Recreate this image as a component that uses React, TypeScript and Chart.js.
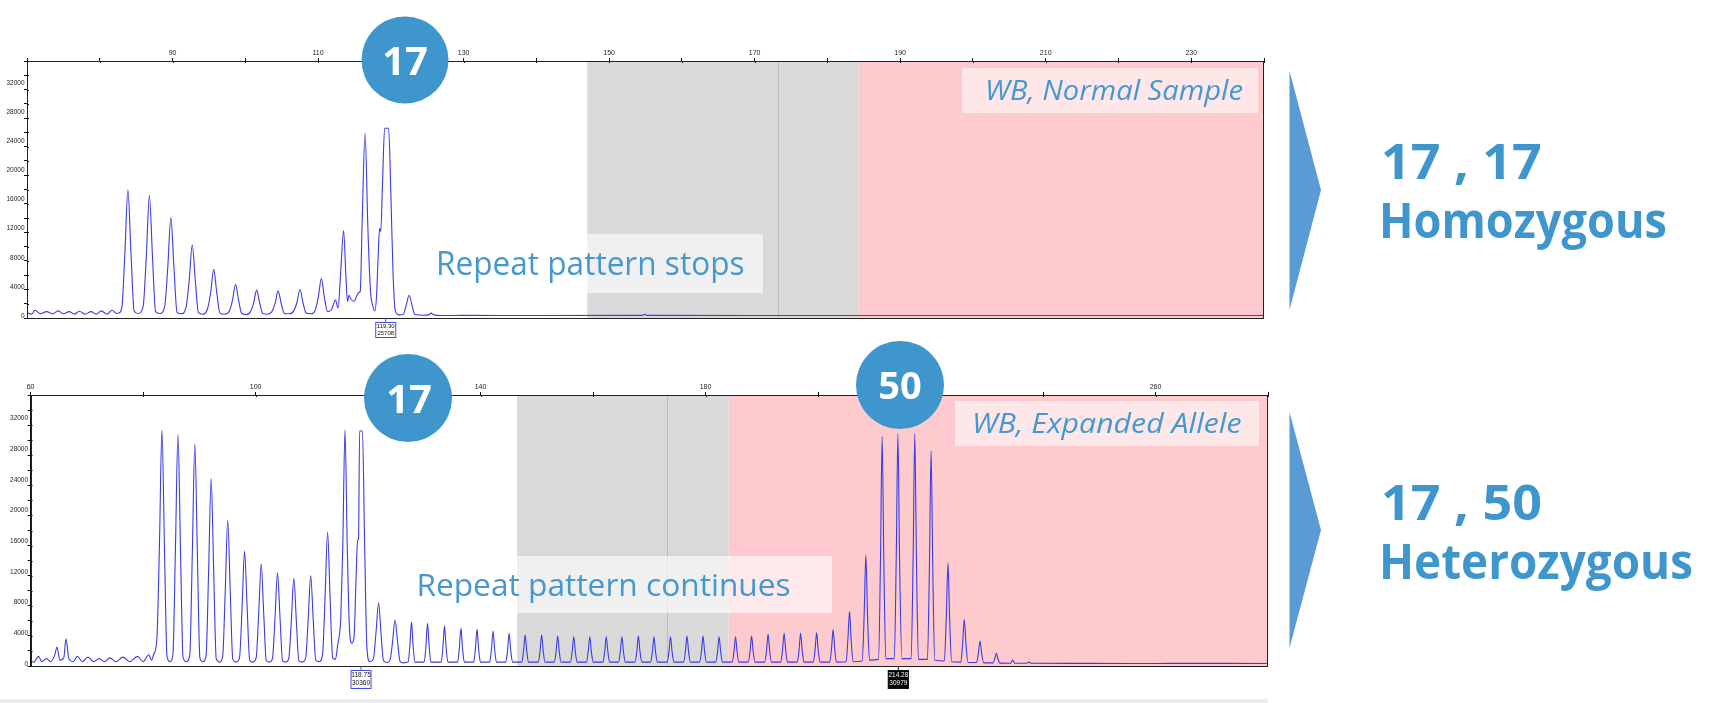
import React, { useEffect, useRef } from "react";
import { Chart, registerables } from "chart.js";

Chart.register(...registerables);

// ---------- data (size in bp on x, RFU on y) ----------
const normalTrace: [number, number][] = [
  [70.0, 450], [70.6, 250], [71.1, 800], [71.8, 300], [72.7, 600], [73.5, 300], [74.3, 700], [75.0, 300],
  [75.8, 600], [76.5, 250], [77.2, 650], [78.0, 250], [78.8, 600], [79.5, 250], [80.2, 700], [81.0, 250],
  [81.7, 800], [82.3, 350], [82.6, 400], [83.05, 1300], [83.45, 8650], [83.87, 17300], [84.29, 8650], [84.72, 700], [85.3, 350],
  [85.97, 1400], [86.4, 8270], [86.82, 16540], [87.24, 8270], [87.67, 600], [88.25, 350],
  [88.92, 1300], [89.35, 6760], [89.77, 13520], [90.19, 6760], [90.62, 500], [91.2, 300],
  [91.86, 1200], [92.29, 4880], [92.71, 9760], [93.13, 4880], [93.56, 450], [94.15, 250],
  [94.81, 1000], [95.24, 3200], [95.66, 6410], [96.08, 3200], [96.51, 400], [97.15, 250],
  [97.81, 700], [98.24, 2160], [98.66, 4320], [99.08, 2160], [99.51, 350], [100.1, 200],
  [100.71, 600], [101.14, 1780], [101.56, 3550], [101.98, 1780], [102.41, 350], [103.0, 250],
  [103.66, 600], [104.09, 1730], [104.51, 3450], [104.93, 1730], [105.36, 350], [106.0, 300],
  [106.66, 700], [107.09, 1820], [107.51, 3640], [107.93, 1820], [108.36, 400], [109.0, 300],
  [109.6, 800], [110.03, 2570], [110.45, 5140], [110.87, 2570], [111.3, 600],
  [111.85, 900], [112.4, 2180], [112.75, 1100],
  [113.1, 5865], [113.51, 11730], [113.85, 5000], [114.05, 2000], [114.24, 2860], [114.55, 2300],
  [114.95, 2000], [115.3, 2700], [115.56, 3180], [115.8, 3400],
  [116.05, 12555], [116.46, 25110], [116.85, 12000], [117.2, 3500], [117.5, 1500], [117.8, 700],
  [118.05, 3000], [118.25, 8000], [118.46, 12050], [118.62, 11600], [118.85, 18000], [119.15, 25800],
  [119.7, 25800], [120.0, 17000], [120.3, 6000], [120.6, 800], [121.1, 150],
  [121.7, 200], [122.1, 1430], [122.51, 2860], [122.92, 1430], [123.3, 200], [124.5, 100],
  [125.2, 150], [125.56, 400], [125.9, 150], [127.0, 60], [130.0, 80], [140.0, 60],
  [154.5, 80], [154.9, 220], [155.3, 80], [170.0, 60], [190.0, 70], [210.0, 60], [240.0, 60],
];

const expandedTrace: [number, number][] = [
  [60.0, 400], [60.6, 250], [61.4, 1000], [62.0, 300], [62.8, 700], [63.6, 300], [64.3, 1200], [64.7, 2200],
  [65.2, 500], [65.9, 800], [66.3, 3300], [66.8, 700], [67.6, 300], [68.3, 1000], [69.2, 300], [70.2, 900],
  [71.2, 300], [72.2, 700], [73.1, 300], [74.1, 800], [75.2, 300], [76.4, 900], [77.6, 300], [79.0, 1000],
  [80.0, 300], [81.0, 1200], [81.5, 500],
  [81.9, 1300], [82.45, 3300], [82.9, 15240], [83.35, 30480], [83.8, 15240], [84.25, 1000], [84.8, 300],
  [85.3, 1200], [85.75, 14960], [86.2, 29930], [86.65, 14960], [87.1, 900], [87.7, 300],
  [88.3, 1200], [88.75, 14330], [89.2, 28660], [89.65, 14330], [90.1, 800], [90.65, 300],
  [91.2, 1100], [91.65, 12100], [92.1, 24190], [92.55, 12100], [93.0, 700], [93.6, 250],
  [94.15, 1000], [94.6, 9380], [95.05, 18760], [95.5, 9380], [95.95, 600], [96.55, 250],
  [97.15, 900], [97.6, 7360], [98.04, 14720], [98.5, 7360], [98.95, 500], [99.5, 250],
  [100.1, 800], [100.55, 6500], [101.0, 13030], [101.45, 6500], [101.9, 450], [102.45, 250],
  [103.0, 700], [103.45, 5950], [103.9, 11900], [104.35, 5950], [104.8, 400], [105.35, 250],
  [105.9, 700], [106.35, 5580], [106.8, 11160], [107.25, 5580], [107.7, 400], [108.3, 250],
  [108.9, 800], [109.35, 5750], [109.8, 11510], [110.25, 5750], [110.7, 500], [111.3, 300],
  [111.9, 1200], [112.35, 8600], [112.8, 17200], [113.25, 8600], [113.7, 800], [114.2, 600],
  [114.6, 2500], [114.9, 3780],
  [115.15, 6000], [115.5, 15240], [115.9, 30480], [116.3, 15240], [116.7, 4500], [117.1, 2700],
  [117.5, 3500], [117.9, 12000], [118.15, 16160], [118.3, 16300], [118.5, 30360], [119.0, 30360],
  [119.4, 15000], [119.8, 2000], [120.3, 300],
  [120.95, 700], [121.4, 4000], [121.87, 7990], [122.3, 4000], [122.75, 400], [123.4, 200],
  [123.9, 500], [124.35, 2860], [124.8, 5730], [125.25, 2860], [125.7, 300], [126.3, 150],
  [127.12, 250], [127.44, 2480], [127.72, 5510], [128.0, 2480], [128.32, 250],
  [129.97, 250], [130.29, 2390], [130.57, 5300], [130.85, 2390], [131.17, 250],
  [132.99, 250], [133.31, 2230], [133.59, 4950], [133.87, 2230], [134.19, 250],
  [135.91, 250], [136.23, 2090], [136.51, 4650], [136.79, 2090], [137.11, 250],
  [138.77, 250], [139.09, 2030], [139.37, 4520], [139.65, 2030], [139.97, 250],
  [141.62, 250], [141.94, 1940], [142.22, 4300], [142.5, 1940], [142.82, 250],
  [144.48, 250], [144.8, 1800], [145.08, 4000], [145.36, 1800], [145.68, 250],
  [147.33, 250], [147.65, 1700], [147.93, 3780], [148.21, 1700], [148.53, 250],
  [150.26, 250], [150.58, 1700], [150.86, 3780], [151.14, 1700], [151.46, 250],
  [153.11, 250], [153.43, 1640], [153.71, 3650], [153.99, 1640], [154.31, 250],
  [155.97, 250], [156.29, 1600], [156.57, 3560], [156.85, 1600], [157.17, 250],
  [158.82, 250], [159.14, 1600], [159.42, 3560], [159.7, 1600], [160.02, 250],
  [161.75, 250], [162.07, 1600], [162.35, 3560], [162.63, 1600], [162.95, 250],
  [164.53, 250], [164.85, 1600], [165.13, 3560], [165.41, 1600], [165.73, 250],
  [167.46, 250], [167.78, 1640], [168.06, 3650], [168.34, 1640], [168.66, 250],
  [170.23, 250], [170.55, 1600], [170.83, 3560], [171.11, 1600], [171.43, 250],
  [173.17, 250], [173.49, 1600], [173.77, 3560], [174.05, 1600], [174.37, 250],
  [176.1, 250], [176.42, 1640], [176.7, 3650], [176.98, 1640], [177.3, 250],
  [178.95, 250], [179.27, 1640], [179.55, 3650], [179.83, 1640], [180.15, 250],
  [181.81, 250], [182.13, 1600], [182.41, 3560], [182.69, 1600], [183.01, 250],
  [184.73, 250], [185.05, 1600], [185.33, 3560], [185.61, 1600], [185.93, 250],
  [187.59, 250], [187.91, 1640], [188.19, 3650], [188.47, 1640], [188.79, 250],
  [190.52, 250], [190.84, 1740], [191.12, 3860], [191.4, 1740], [191.72, 250],
  [193.37, 250], [193.69, 1800], [193.97, 4000], [194.25, 1800], [194.57, 250],
  [196.3, 250], [196.62, 1800], [196.9, 4000], [197.18, 1800], [197.5, 250],
  [199.15, 250], [199.47, 1840], [199.75, 4080], [200.03, 1840], [200.35, 250],
  [202.08, 250], [202.4, 2030], [202.68, 4500], [202.96, 2030], [203.28, 250],
  [205.0, 300], [205.3, 3100], [205.6, 6820], [205.9, 3000], [206.25, 300],
  [207.85, 400], [208.2, 6400], [208.5, 14200], [208.8, 6300], [209.15, 500],
  [210.75, 600], [211.1, 13500], [211.4, 29620], [211.7, 13300], [212.05, 700],
  [213.55, 700], [213.9, 13600], [214.2, 29970], [214.5, 13500], [214.9, 700],
  [216.55, 700], [216.9, 13600], [217.2, 29970], [217.5, 13500], [217.85, 600],
  [219.45, 600], [219.8, 12600], [220.1, 27750], [220.4, 12500], [220.75, 500],
  [222.45, 400], [222.8, 6000], [223.1, 13200], [223.4, 5900], [223.75, 300],
  [225.4, 250], [225.7, 2600], [226.0, 5820], [226.3, 2600], [226.65, 200],
  [228.2, 200], [228.5, 1350], [228.8, 3000], [229.1, 1350], [229.45, 150],
  [231.1, 150], [231.4, 650], [231.7, 1380], [232.0, 650], [232.35, 120],
  [234.2, 100], [234.6, 500], [235.0, 100], [237.1, 100], [237.5, 250], [237.9, 90],
  [245.0, 80], [255.0, 70], [265.0, 80], [280.0, 70],
];

const normalXLabels = [90, 110, 130, 150, 170, 190, 210, 230];
const expandedXLabels = [60, 100, 140, 180, 220, 260];
const yLabels = [0, 4000, 8000, 12000, 16000, 20000, 24000, 28000, 32000];

const normalGrey = [147, 184.3];
const normalDivider = 173.2;
const normalPink = [184.3, 240];
const expandedGrey = [146.5, 184.1];
const expandedDivider = 173.1;
const expandedPink = [184.1, 280];

const normalCalls = [{ at: 119.3, size: "119.30", height: "25708", dark: false }];
const expandedCalls = [
  { at: 118.75, size: "118.75", height: "30360", dark: false },
  { at: 214.28, size: "214.28", height: "30979", dark: true },
];

// ---------- chart plumbing ----------
const panelPlugin = {
  id: "panel",
  beforeDatasetsDraw(chart: any, _a: any, o: any) {
    const { ctx, chartArea: a, scales } = chart;
    const x = scales.x;
    const h = a.bottom - a.top;
    ctx.save();
    const g0 = x.getPixelForValue(o.grey[0]);
    const g1 = x.getPixelForValue(o.grey[1]);
    ctx.fillStyle = "#d9d9d9";
    ctx.fillRect(g0, a.top, g1 - g0, h);
    const p0 = x.getPixelForValue(o.pink[0]);
    const p1 = x.getPixelForValue(o.pink[1]);
    ctx.fillStyle = "#fdcbce";
    ctx.fillRect(p0, a.top, p1 - p0, h);
    const d = Math.round(x.getPixelForValue(o.divider)) + 0.5;
    ctx.strokeStyle = "#bcbcbc";
    ctx.lineWidth = 1;
    ctx.beginPath();
    ctx.moveTo(d, a.top);
    ctx.lineTo(d, a.bottom);
    ctx.stroke();
    ctx.restore();
  },
  afterDraw(chart: any, _a: any, o: any) {
    const { ctx, chartArea: a, scales } = chart;
    const x = scales.x;
    const y = scales.y;
    ctx.save();
    ctx.strokeStyle = "#222";
    ctx.lineWidth = 1;
    ctx.strokeRect(Math.round(a.left) + 0.5, Math.round(a.top) + 0.5, Math.round(a.right - a.left) - 1, Math.round(a.bottom - a.top));
    // inner halves of the tick marks (they cross the axis lines)
    ctx.strokeStyle = "#111";
    ctx.beginPath();
    for (const t of y.ticks) {
      const py = Math.round(y.getPixelForValue(t.value)) + 0.5;
      ctx.moveTo(a.left, py);
      ctx.lineTo(a.left + 2, py);
    }
    for (const t of x.ticks) {
      const px = Math.round(x.getPixelForValue(t.value)) + 0.5;
      ctx.moveTo(px, a.top);
      ctx.lineTo(px, a.top + 2);
    }
    ctx.stroke();
    // y tick labels
    ctx.fillStyle = "#222";
    ctx.font = '6.5px "Liberation Sans", Arial, sans-serif';
    ctx.textAlign = "right";
    ctx.textBaseline = "middle";
    for (const v of o.yLabels) {
      ctx.fillText(String(v), a.left - 2.5, y.getPixelForValue(v));
    }
    // peak call boxes
    for (const c of o.calls) {
      const cx = x.getPixelForValue(c.at);
      const top = a.bottom + 4;
      const w = o.boxW;
      const bh = o.boxH;
      ctx.strokeStyle = c.dark ? "#111" : "#4b4be0";
      ctx.beginPath();
      ctx.moveTo(cx, a.bottom);
      ctx.lineTo(cx, top);
      ctx.stroke();
      ctx.fillStyle = c.dark ? "#000" : "#fff";
      ctx.fillRect(cx - w / 2, top, w, bh);
      ctx.strokeRect(cx - w / 2 + 0.5, top + 0.5, w - 1, bh - 1);
      ctx.fillStyle = c.dark ? "#fff" : "#111";
      ctx.font = `${o.boxFont}px "Liberation Sans", Arial, sans-serif`;
      ctx.textAlign = "center";
      ctx.textBaseline = "middle";
      ctx.fillText(c.size, cx, top + bh * 0.3);
      ctx.fillText(c.height, cx, top + bh * 0.72);
    }
    ctx.restore();
  },
};

function buildChart(canvas: HTMLCanvasElement, cfg: any) {
  return new Chart(canvas, {
    type: "line",
    data: {
      datasets: [
        {
          data: cfg.trace.map(([x, y]: [number, number]) => ({ x, y })),
          borderColor: "#3b3be6",
          borderWidth: 1.1,
          pointRadius: 0,
          cubicInterpolationMode: "monotone",
          fill: false,
        },
      ],
    },
    options: {
      responsive: false,
      animation: false,
      events: [],
      layout: { padding: cfg.padding },
      plugins: {
        legend: { display: false },
        tooltip: { enabled: false },
        panel: {
          grey: cfg.grey, pink: cfg.pink, divider: cfg.divider, calls: cfg.calls,
          boxW: cfg.boxW, boxH: cfg.boxH, boxFont: cfg.boxFont, yLabels: yLabels,
        },
      } as any,
      scales: {
        x: {
          type: "linear",
          position: "top",
          min: cfg.xMin,
          max: cfg.xMax,
          afterFit: (s: any) => {
            s.height = cfg.xH;
          },
          ticks: {
            stepSize: cfg.xStep,
            autoSkip: false,
            maxRotation: 0,
            includeBounds: false,
            padding: 1,
            color: "#222",
            font: { size: 7, family: "Liberation Sans" },
            callback: (v: any) => (cfg.xLabels.includes(v) ? String(v) : ""),
          },
          grid: { drawOnChartArea: false, drawTicks: true, tickLength: 3, color: "#111" },
          border: { display: true, color: "#111", width: 1 },
        },
        y: {
          type: "linear",
          min: cfg.yMin,
          max: cfg.yMax,
          afterFit: (s: any) => {
            s.width = cfg.yW;
          },
          ticks: {
            stepSize: 2000,
            autoSkip: false,
            includeBounds: false,
            padding: 2,
            color: "#222",
            font: { size: 6.5, family: "Liberation Sans" },
            callback: () => "",
          },
          grid: { drawOnChartArea: false, drawTicks: true, tickLength: 3, color: "#111" },
          border: { display: true, color: "#111", width: 1 },
        },
      },
    } as any,
    plugins: [panelPlugin as any],
  });
}

const BLUE = "#3e96cd";
const TXT = "#4598cf";
const FONT = "'Open Sans', sans-serif";

export default function App() {
  const topRef = useRef<HTMLCanvasElement>(null);
  const botRef = useRef<HTMLCanvasElement>(null);

  useEffect(() => {
    const c1 = buildChart(topRef.current!, {
      trace: normalTrace,
      xMin: 70, xMax: 240, xStep: 10, xLabels: normalXLabels,
      yMin: -275, yMax: 35050,
      xH: 61, yW: 27,
      padding: { left: 0, top: 0, right: 16, bottom: 27 },
      grey: normalGrey, pink: normalPink, divider: normalDivider,
      calls: normalCalls, boxW: 21, boxH: 16, boxFont: 6,
    });
    const c2 = buildChart(botRef.current!, {
      trace: expandedTrace,
      xMin: 60, xMax: 280, xStep: 20, xLabels: expandedXLabels,
      yMin: -260, yMax: 35050,
      xH: 65, yW: 30.6,
      padding: { left: 0, top: 0, right: 17, bottom: 34 },
      grey: expandedGrey, pink: expandedPink, divider: expandedDivider,
      calls: expandedCalls, boxW: 21, boxH: 19, boxFont: 6.5,
    });
    return () => {
      c1.destroy();
      c2.destroy();
    };
  }, []);

  return (
    <div style={{ position: "fixed", left: 0, top: 0, width: 1726, height: 703, background: "#fff", overflow: "hidden" }}>
      <canvas ref={topRef} width={1280} height={345} style={{ position: "absolute", left: 0, top: 0, width: 1280, height: 345 }} />
      <canvas ref={botRef} width={1285} height={370} style={{ position: "absolute", left: 0, top: 330, width: 1285, height: 370 }} />
      <svg width={1726} height={703} style={{ position: "absolute", left: 0, top: 0 }}>
        <rect x={0} y={699} width={1268} height={4} fill="#ececec" />

        {/* text boxes */}
        <rect x={420} y={234} width={343} height={59} fill="rgba(255,255,255,0.6)" />
        <text x={436} y={275} fontFamily={FONT} fontSize={32} fill={TXT} textLength={308.5} lengthAdjust="spacingAndGlyphs">
          Repeat pattern stops
        </text>
        <rect x={400} y={556} width={432} height={57} fill="rgba(255,255,255,0.6)" />
        <text x={416.4} y={595.7} fontFamily={FONT} fontSize={31} fill={TXT} textLength={374.3} lengthAdjust="spacingAndGlyphs">
          Repeat pattern continues
        </text>

        <rect x={962} y={68} width={296} height={45} fill="rgba(255,255,255,0.55)" />
        <text x={985} y={100} fontFamily={FONT} fontStyle="italic" fontSize={27} fill={TXT} textLength={258} lengthAdjust="spacingAndGlyphs">
          WB, Normal Sample
        </text>
        <rect x={955} y={401} width={304} height={45} fill="rgba(255,255,255,0.55)" />
        <text x={972} y={433.3} fontFamily={FONT} fontStyle="italic" fontSize={27} fill={TXT} textLength={269.6} lengthAdjust="spacingAndGlyphs">
          WB, Expanded Allele
        </text>

        {/* allele circles */}
        <circle cx={405} cy={60} r={43.5} fill={BLUE} />
        <text x={405} y={74.8} textAnchor="middle" fontFamily={FONT} fontWeight={700} fontSize={40} fill="#fff">
          17
        </text>
        <circle cx={408} cy={398} r={44} fill={BLUE} />
        <text x={409} y={412.7} textAnchor="middle" fontFamily={FONT} fontWeight={700} fontSize={40} fill="#fff">
          17
        </text>
        <circle cx={900} cy={385} r={44} fill={BLUE} />
        <text x={900} y={399} textAnchor="middle" fontFamily={FONT} fontWeight={700} fontSize={38} fill="#fff">
          50
        </text>

        {/* arrows */}
        <polygon points="1289.5,71 1321,190 1289.5,310" fill="#5b9bd5" />
        <polygon points="1289.5,412 1321,530 1289.5,648" fill="#5b9bd5" />

        {/* results */}
        <text x={1381} y={178.6} fontFamily={FONT} fontWeight={700} fontSize={49} fill={BLUE} textLength={160.7} lengthAdjust="spacingAndGlyphs">
          17 , 17
        </text>
        <text x={1379} y={238} fontFamily={FONT} fontWeight={700} fontSize={49} fill={BLUE} textLength={288} lengthAdjust="spacingAndGlyphs">
          Homozygous
        </text>
        <text x={1381} y={519.6} fontFamily={FONT} fontWeight={700} fontSize={49} fill={BLUE} textLength={161} lengthAdjust="spacingAndGlyphs">
          17 , 50
        </text>
        <text x={1379} y={579} fontFamily={FONT} fontWeight={700} fontSize={49} fill={BLUE} textLength={314} lengthAdjust="spacingAndGlyphs">
          Heterozygous
        </text>
      </svg>
    </div>
  );
}
